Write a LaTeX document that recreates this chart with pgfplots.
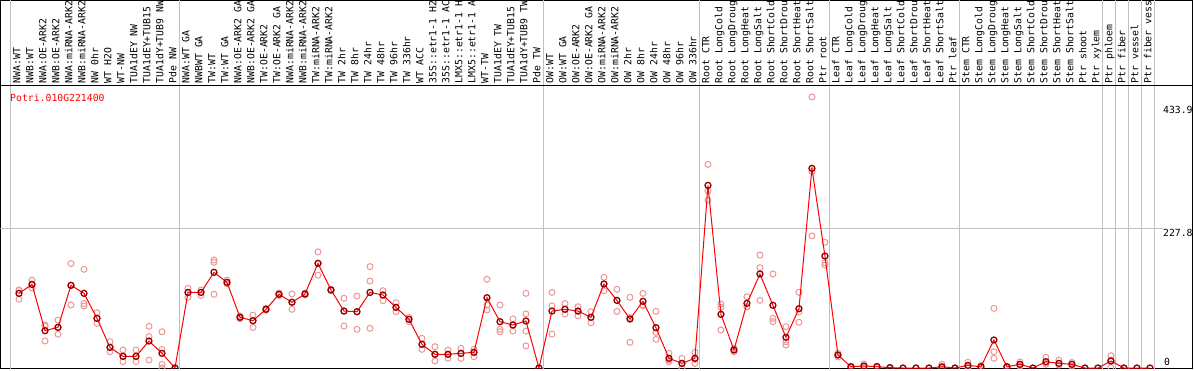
\documentclass[border=0pt]{standalone}
\usepackage{pgfplots}
\pgfplotsset{compat=1.18}
\usepackage{fontspec}
\setmainfont{DejaVu Sans Mono}
\setmonofont{DejaVu Sans Mono}
\definecolor{rep}{RGB}{236,150,150}
\definecolor{gridc}{RGB}{192,192,192}
\definecolor{mainmk}{RGB}{150,0,0}
\tikzset{lab/.style={rotate=90, anchor=base west, inner sep=0pt, font=\fontsize{9.8}{10}\selectfont}}
\pgfplotstableread{
x y
0 127
0 126
0 112
1 143
1 136
1 130
2 70
2 68
2 44
3 78
3 66
3 55
4 170
4 134.5
4 102.5
5 160.6
5 105
5 101
6 90
6 81
6 72.7
7 42.8
7 33.6
7 26.5
8 29.3
8 19
8 10.3
9 29.3
9 19
9 10.3
10 67.8
10 51
10 13
11 59
11 30
11 6
11 0
12 0
13 129.6
13 123
13 115
14 126.9
14 123
14 118
15 175.7
15 172
15 120
16 143
16 139
16 137
17 84.6
17 82.5
17 80.2
18 86
18 77
18 66
19 97
19 95.5
19 94
20 122
20 120
20 118
21 120.4
21 107
21 95.5
22 122
22 120
22 119
23 189
23 170
23 151
24 128
24 127
24 126
25 113.4
25 92.7
25 68.3
26 117
26 91.6
26 63
27 165
27 141.5
27 64.6
28 125.8
28 118.8
28 109.5
29 106.3
29 98.8
29 91.6
30 82.5
30 79.2
30 75.4
31 48.3
31 38.5
31 30.4
32 34.7
32 22.3
32 11.4
33 29.3
33 22.3
33 15.8
34 32
34 23.9
34 15.8
35 30.4
35 25.5
35 18.4
36 144.3
36 102.5
36 94.4
37 102.5
37 63
37 59
38 80
38 70
38 60
39 121.5
39 88
39 60
39 36
40 0
41 123
41 101
41 55.3
42 105
42 95.5
42 87.9
43 99.7
43 92.7
43 85
44 91.6
44 82.5
44 73.7
45 147.6
45 136.7
45 125.8
46 128
46 110
46 92
47 115
47 82
47 41.8
48 121.5
48 102.5
48 101.5
49 92.2
49 58
49 46.7
50 23.9
50 13
50 10.3
51 15.8
51 7
51 0
52 25.5
52 14
52 7.6
53 331.4
53 288
53 273.3
54 104
54 98.7
54 61.8
55 32
55 29.3
55 26.5
56 116
56 100
56 99.7
57 183.9
57 163.2
57 110.1
58 153
58 80.8
58 75.4
59 67.2
59 42.8
59 37.4
60 123.2
60 91.1
60 74.4
61 441
61 320
61 215
62 204.5
62 171.3
62 167.6
63 24
63 21
63 18
64 3
64 2
64 1
65 6.5
65 2
65 1.5
66 3
66 2
66 1.5
67 1
67 0.5
67 0
68 0
69 0
70 0
71 6
71 0
71 0
72 0
73 9.2
73 3
73 0.5
74 4
74 1.5
74 0.5
75 97.1
75 26.5
75 15.8
76 3
76 2
76 1
77 9.8
77 5
77 3
78 0
79 17.4
79 7.6
79 6
80 13
80 5
80 4.9
81 9
81 6
81 3
82 0
83 0
84 20
84 13
84 1
85 0
86 0
87 0
}\reps
\pgfplotstableread{
x y
0 121.5
1 136
2 60.7
3 66.2
4 134.5
5 121.5
6 80.8
7 33.6
8 19
9 19
10 43.9
11 23.9
12 0
13 123
14 123
15 155.7
16 139.4
17 82.5
18 77
19 95.5
20 120
21 107
22 120.4
23 170.3
24 127
25 92.7
26 91.6
27 123
28 118.8
29 98.7
30 79.2
31 38.5
32 22.3
33 22.3
34 23.9
35 25.5
36 114.4
37 75.4
38 70
39 76.5
40 0
41 92.7
42 95.5
43 92.7
44 82.5
45 136.7
46 110
47 79.7
48 108.5
49 65.6
50 15.8
51 7.6
52 15.8
53 297.2
54 87.4
55 29.3
56 105.2
57 153
58 102
59 49.9
60 96.5
61 324.9
62 182.2
63 21.2
64 2
65 3.3
66 2.2
67 0.5
68 0
69 0
70 0
71 2
72 0
73 4.3
74 2
75 45.6
76 2
77 6
78 0
79 10.3
80 7.6
81 6
82 0
83 0
84 11.4
85 0
86 0
87 0
}\means
\begin{document}
\begin{tikzpicture}
\begin{axis}[
  at={(0,0)}, anchor=south west,
  width=1192pt, height=368pt, scale only axis,
  xmin=-1.4231, xmax=90.2692, ymin=-0.8, ymax=598,
  axis line style={black, line width=1pt},
  xtick=\empty, ytick=\empty,
  clip marker paths=true,
]
\pgfplotsinvokeforeach{-0.6154,12.3846,40.3846,52.3846,62.3846,72.3846,83.3846,84.3846,85.3846,86.3846,87.3846}{
  \draw[gridc, line width=1pt] (axis cs:#1,-0.8) -- (axis cs:#1,598);
}
\draw[gridc, line width=1pt] (axis cs:-1.4231,227.8) -- (axis cs:88.0,227.8);
\draw[black, line width=1pt] (axis cs:-1.4231,460.5) -- (axis cs:90.2692,460.5);
\foreach \lab [count=\i from 0] in {NWA:WT,NWB:WT,NWA:OE-ARK2,NWB:OE-ARK2,NWA:miRNA-ARK2,NWB:miRNA-ARK2,NW 0hr,WT H2O,WT-NW,TUA1dEY NW,TUA1dEY+TUB15,TUA1dY+TUB9 NW,Pde NW,NWA:WT GA,NWBWT GA,TW:WT,TW:WT GA,NWA:OE-ARK2 GA,NWB:OE-ARK2 GA,TW:OE-ARK2,TW:OE-ARK2 GA,NWA:miRNA-ARK2,NWB:miRNA-ARK2,TW:miRNA-ARK2,TW:miRNA-ARK2,TW 2hr,TW 8hr,TW 24hr,TW 48hr,TW 96hr,TW 336hr,WT ACC,35S::etr1-1 H2,35S::etr1-1 AC,LMX5::etr1-1 H,LMX5::etr1-1 A,WT-TW,TUA1dEY TW,TUA1dEY+TUB15,TUA1dY+TUB9 TW,Pde TW,OW:WT,OW:WT GA,OW:OE-ARK2,OW:OE-ARK2 GA,OW:miRNA-ARK2,OW:miRNA-ARK2,OW 2hr,OW 8hr,OW 24hr,OW 48hr,OW 96hr,OW 336hr,Root CTR,Root LongCold,Root LongDroug,Root LongHeat,Root LongSalt,Root ShortCold,Root ShortDrou,Root ShortHeat,Root ShortSalt,Ptr root,Leaf CTR,Leaf LongCold,Leaf LongDroug,Leaf LongHeat,Leaf LongSalt,Leaf ShortCold,Leaf ShortDrou,Leaf ShortHeat,Leaf ShortSalt,Ptr leaf,Stem CTR,Stem LongCold,Stem LongDroug,Stem LongHeat,Stem LongSalt,Stem ShortCold,Stem ShortDrou,Stem ShortHeat,Stem ShortSalt,Ptr shoot,Ptr xylem,Ptr phloem,Ptr fiber,Ptr vessel,Ptr fiber vess}{
  \pgfmathsetmacro\xx{\i+0.115}
  \edef\temp{\noexpand\node[lab] at (axis cs:\xx,462.9) {\lab};}
  \temp
}
\node[anchor=base west, inner sep=0pt, text=red, font=\fontsize{9.8}{10}\selectfont] at (axis cs:-0.692,433.6) {Potri.010G221400};
\node[anchor=base west, inner sep=0pt, font=\fontsize{9.8}{10}\selectfont] at (axis cs:88.0,414.4) {433.9};
\node[anchor=base west, inner sep=0pt, font=\fontsize{9.8}{10}\selectfont] at (axis cs:88.0,213.2) {227.8};
\node[anchor=base west, inner sep=0pt, font=\fontsize{9.8}{10}\selectfont] at (axis cs:88.08,3.7) {0};
\addplot[only marks, mark=o, mark size=3pt, rep, mark options={line width=1pt}] table[x=x,y=y] {\reps};
\addplot[red, line width=1pt, mark=o, mark size=3pt, mark options={draw=mainmk, line width=1.3pt}] table[x=x,y=y] {\means};
\end{axis}
\pgfresetboundingbox
\useasboundingbox (-0.5pt,-1.5pt) rectangle (1193.5pt,368.5pt);
\end{tikzpicture}
\end{document}
